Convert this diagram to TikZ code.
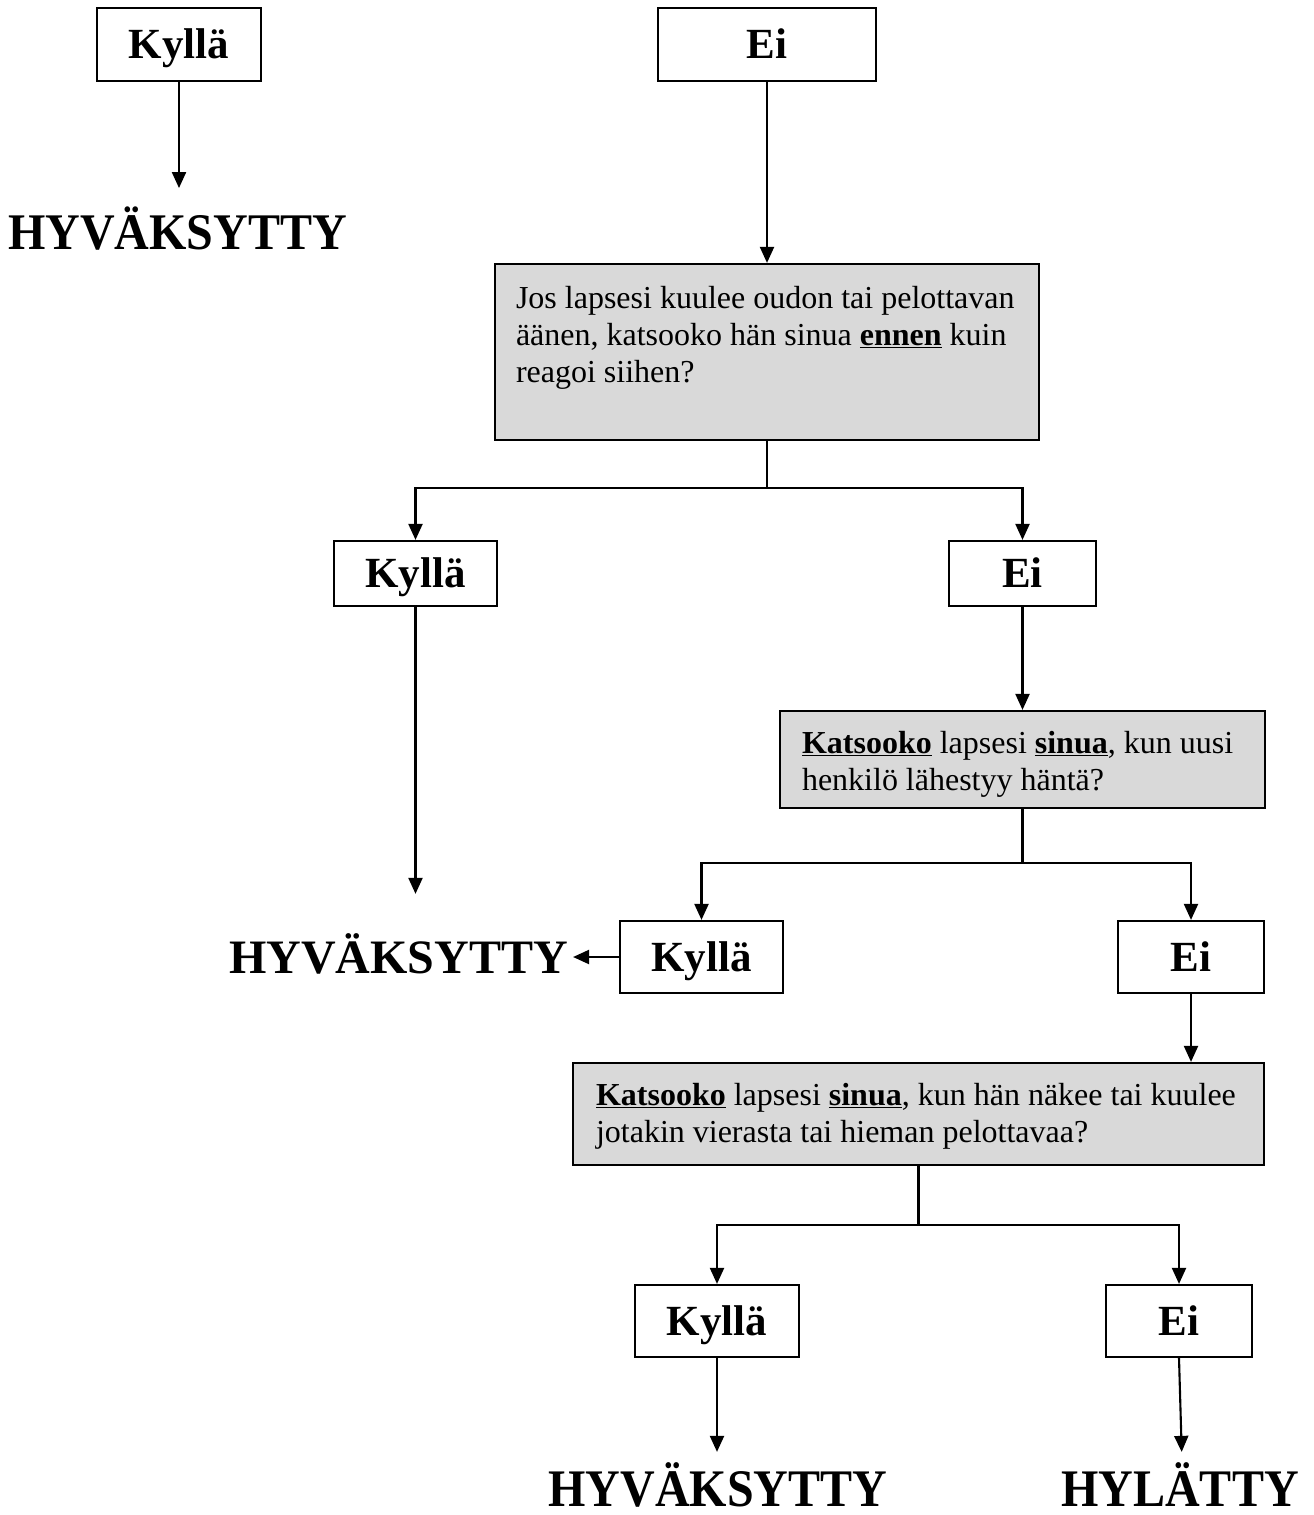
\documentclass[tikz,border=0pt]{standalone}
\usepackage{fontspec}
\setmainfont{Liberation Serif}
\usetikzlibrary{arrows.meta}
\definecolor{qgray}{HTML}{D9D9D9}
\begin{document}
\begin{tikzpicture}[x=1pt,y=-1pt,
  answer/.style={draw, line width=2.2pt, inner sep=0pt, text height=28.5pt, text depth=0pt, font=\fontsize{43}{50}\selectfont\bfseries},
  result/.style={inner sep=0pt, anchor=base, font=\fontsize{48}{56}\selectfont\bfseries},
  question/.style={draw, line width=2.2pt, fill=qgray, font=\fontsize{32}{37}\selectfont},
  conn/.style={line width=2.1pt},
  arr/.style={conn, -{Triangle[length=16pt,width=14pt]}}]
\useasboundingbox (0,0) rectangle (1314,1515);

\node[answer, minimum width=164pt, minimum height=73pt] (k1) at (179,44.5) {Kyllä};
\node[answer, minimum width=218pt, minimum height=73pt] (e1) at (767,44.5) {Ei};
\node[result] (h1) at (177.5,249) {\scalebox{1}[1.07]{HYVÄKSYTTY}};

\node[question, inner xsep=21pt, inner ysep=18.2pt] (q1) at (767,352) {\parbox[c][139.6pt][t]{502pt}{\raggedright\strut Jos lapsesi kuulee oudon tai pelottavan\\ äänen, katsooko hän sinua \underline{\textbf{ennen}} kuin\\ reagoi siihen?}};

\node[answer, minimum width=163pt, minimum height=65pt] (k2) at (415.5,573.5) {Kyllä};
\node[answer, minimum width=147pt, minimum height=65pt] (e2) at (1022.5,573.5) {Ei};

\node[question, inner xsep=22pt, inner ysep=16.2pt] (q2) at (1022.5,759.5) {\parbox[c][64.6pt][t]{441pt}{\raggedright\strut\underline{\textbf{Katsooko}} lapsesi \underline{\textbf{sinua}}, kun uusi\\ henkilö lähestyy häntä?}};

\node[answer, minimum width=163pt, minimum height=72pt] (k3) at (701.5,957) {Kyllä};
\node[answer, minimum width=146pt, minimum height=72pt] (e3) at (1191,957) {Ei};
\node[result] (h2) at (398.5,973) {HYVÄKSYTTY};

\node[question, inner xsep=23pt, inner ysep=16.2pt] (q3) at (918.5,1114) {\parbox[c][69.6pt][t]{645pt}{\raggedright\strut\underline{\textbf{Katsooko}} lapsesi \underline{\textbf{sinua}}, kun hän näkee tai kuulee\\ jotakin vierasta tai hieman pelottavaa?}};

\node[answer, minimum width=164pt, minimum height=72pt] (k4) at (717,1321) {Kyllä};
\node[answer, minimum width=146pt, minimum height=72pt] (e4) at (1179,1321) {Ei};
\node[result] (h3) at (718,1506) {\scalebox{1}[1.1]{HYVÄKSYTTY}};
\node[result] (h4) at (1180,1506) {\scalebox{1}[1.1]{HYLÄTTY}};

\coordinate (j1) at (767,488);
\coordinate (j2) at (1022.5,863);
\coordinate (j3) at (918.5,1225);

\draw[arr, shorten >=18pt] (k1.south) -- (k1.south |- h1.north);
\draw[arr] (e1.south) -- (q1.north);
\draw[conn] (q1.south) -- (j1);
\draw[arr] (j1) -| (k2.north);
\draw[arr] (j1) -| (e2.north);
\draw[arr, shorten >=39pt] (k2.south) -- (k2.south |- h2.north);
\draw[arr] (e2.south) -- (q2.north);
\draw[conn] (q2.south) -- (j2);
\draw[arr] (j2) -| (k3.north);
\draw[arr] (j2) -| (e3.north);
\draw[arr, shorten >=5pt] (k3.west) -- (k3.west -| h2.east);
\draw[arr] (e3.south) -- (e3.south |- q3.north);
\draw[conn] (q3.south) -- (j3);
\draw[arr] (j3) -| (k4.north);
\draw[arr] (j3) -| (e4.north);
\draw[arr, shorten >=10pt] (k4.south) -- (k4.south |- h3.north);
\draw[arr, shorten >=10pt] (e4.south) -- ([xshift=3pt]e4.south |- h4.north);
\end{tikzpicture}
\end{document}
